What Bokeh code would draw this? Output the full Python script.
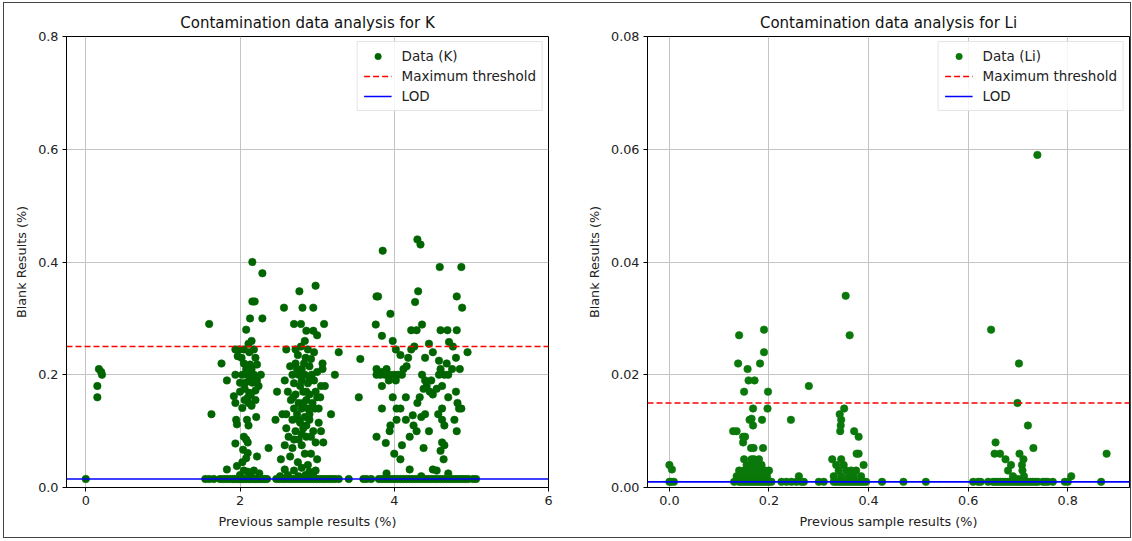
from bokeh.plotting import figure
from bokeh.layouts import row
from bokeh.models import FixedTicker, NumeralTickFormatter, Legend, LegendItem, Range1d
from bokeh.embed import file_html
from bokeh.resources import INLINE

# ---------------- K data ----------------
k_prev = [
    # near zero
    0.0, 0.17, 0.2, 0.21, 0.15, 0.15,
    # cluster around 2
    1.60, 1.63, 1.76, 1.83, 2.16, 2.29, 2.16, 2.19, 2.13, 2.29, 2.08, 2.15, 2.11, 1.94,
    1.99, 1.97, 2.05, 2.12, 2.18, 2.05, 2.13, 2.22, 1.94, 2.03, 2.10, 2.18, 2.27, 2.00,
    2.07, 2.16, 2.22, 2.06, 2.12, 2.20, 1.92, 2.10, 2.20, 1.94, 2.11, 2.15, 2.03, 1.95,
    2.09, 2.21, 1.96, 2.11, 2.05, 2.08, 2.10, 1.94, 2.04, 2.10, 2.08, 2.03, 2.22, 2.37,
    1.83, 1.96, 2.05, 2.10, 2.18, 2.25, 2.00, 2.14, 2.02, 2.08, 2.15, 2.20, 2.17, 2.24,
    2.00, 2.12, 2.06, 2.14,
    # cluster around 2.8
    2.98, 2.77, 2.57, 2.81, 2.95, 2.70, 2.79, 3.09, 2.86, 2.95, 3.00, 2.84, 2.60, 2.72,
    2.79, 2.88, 2.96, 3.28, 2.75, 2.85, 2.92, 3.07, 3.07, 3.23, 2.65, 2.72, 2.80, 2.90,
    2.68, 2.76, 2.84, 2.93, 3.00, 2.58, 2.70, 2.80, 2.88, 2.96, 3.05, 3.10, 2.48, 2.62,
    2.72, 2.82, 2.90, 3.00, 2.66, 2.76, 2.86, 2.94, 3.04, 2.70, 2.80, 2.88, 2.97, 2.60,
    2.74, 2.84, 3.18, 2.46, 2.55, 2.68, 2.78, 2.90, 3.02, 2.60, 2.72, 2.82, 2.95, 3.05,
    2.63, 2.76, 2.86, 2.98, 3.08, 2.58, 2.68, 2.80, 2.92, 2.53, 2.65, 2.75, 2.88, 3.00,
    2.58, 2.70, 2.80, 2.90, 2.98, 2.62, 2.76, 2.85, 2.95, 2.52,
    2.74, 2.83, 2.90, 2.78, 2.86, 2.82, 2.90, 2.76, 2.86, 2.80, 2.92, 2.84, 2.70, 3.02,
    2.98, 2.69,
    # cluster around 4.3
    3.85, 4.30, 4.34, 4.59, 4.87, 3.77, 3.79, 3.76, 3.84, 3.95, 4.31, 4.27, 4.36, 4.22,
    4.29, 4.81, 4.88, 4.60, 4.69, 4.81, 4.71, 4.95, 3.56, 3.54, 3.98, 4.02, 4.08, 4.12,
    4.16, 4.18, 4.22, 4.26, 4.10, 3.77, 3.84, 3.90, 3.77, 3.82, 3.88, 3.94, 4.00, 4.05,
    3.84, 3.93, 4.02, 3.98, 4.15, 3.84, 4.03, 4.08, 3.77, 3.89, 3.94, 4.03, 4.15, 4.08,
    4.20, 4.38, 4.24, 4.29, 4.33, 4.38, 4.42, 4.46, 4.50, 4.55, 4.40, 4.48, 4.36, 4.50,
    4.58, 4.60, 4.65, 4.70, 4.75, 4.68, 4.58, 4.62, 4.70, 4.62, 4.57, 4.62, 4.65, 4.62,
    4.65, 4.60, 4.64, 4.50, 4.80, 4.82, 4.84, 4.87, 4.81, 4.78, 4.80, 4.85, 4.76, 4.45,
    4.40, 4.30, 4.25, 4.40, 4.35, 4.20, 4.45, 3.95, 4.00, 4.10, 3.90, 4.35, 4.70, 4.55,
    # at the limit of detection
    1.55, 1.60, 1.66, 1.74, 1.78, 1.82, 1.86, 1.90, 1.93, 1.96, 1.99, 2.02, 2.05, 2.08,
    2.11, 2.14, 2.17, 2.20, 2.23, 2.26, 2.29, 2.32, 2.35, 2.47, 2.51, 2.55, 2.59, 2.63,
    2.67, 2.71, 2.75, 2.79, 2.83, 2.87, 2.91, 2.95, 2.99, 3.03, 3.07, 3.11, 3.15, 3.19,
    3.23, 3.28, 3.41, 3.60, 3.64, 3.70, 3.80, 3.84, 3.88, 3.92, 3.96, 4.00, 4.04, 4.08,
    4.12, 4.16, 4.20, 4.24, 4.28, 4.32, 4.36, 4.40, 4.44, 4.48, 4.52, 4.56, 4.60, 4.64,
    4.68, 4.72, 4.76, 4.80, 4.84, 4.88, 4.92, 4.96, 5.02, 5.06,
]
k_blank = [
    0.015, 0.21, 0.205, 0.20, 0.18, 0.16,
    0.29, 0.13, 0.22, 0.19, 0.40, 0.38, 0.33, 0.33, 0.30, 0.30, 0.28, 0.26, 0.255, 0.245,
    0.245, 0.233, 0.245, 0.24, 0.245, 0.22, 0.218, 0.218, 0.20, 0.20, 0.20, 0.20, 0.20, 0.186,
    0.186, 0.186, 0.19, 0.175, 0.168, 0.172, 0.162, 0.159, 0.155, 0.15, 0.15, 0.145, 0.141, 0.12,
    0.12, 0.125, 0.112, 0.11, 0.09, 0.085, 0.08, 0.078, 0.067, 0.061, 0.052, 0.045, 0.055, 0.07,
    0.032, 0.038, 0.03, 0.028, 0.03, 0.025, 0.022, 0.02, 0.23, 0.21, 0.21, 0.23, 0.19, 0.18,
    0.17, 0.19, 0.155, 0.165,
    0.358, 0.348, 0.319, 0.319, 0.319, 0.29, 0.29, 0.29, 0.278, 0.278, 0.27, 0.26, 0.245, 0.245,
    0.25, 0.245, 0.24, 0.24, 0.235, 0.23, 0.228, 0.22, 0.21, 0.20, 0.215, 0.22, 0.21, 0.215,
    0.20, 0.20, 0.20, 0.20, 0.205, 0.19, 0.185, 0.19, 0.185, 0.19, 0.18, 0.18, 0.17, 0.17,
    0.165, 0.17, 0.165, 0.16, 0.155, 0.15, 0.155, 0.15, 0.16, 0.14, 0.14, 0.14, 0.14, 0.13,
    0.13, 0.125, 0.13, 0.12, 0.13, 0.12, 0.115, 0.12, 0.115, 0.105, 0.10, 0.105, 0.10, 0.10,
    0.09, 0.085, 0.09, 0.08, 0.08, 0.075, 0.07, 0.075, 0.06, 0.05, 0.055, 0.045, 0.04, 0.05,
    0.032, 0.03, 0.035, 0.028, 0.03, 0.022, 0.02, 0.022, 0.02, 0.02,
    0.21, 0.22, 0.19, 0.18, 0.17, 0.15, 0.13, 0.12, 0.11, 0.095, 0.09, 0.06, 0.085, 0.14,
    0.17, 0.16,
    0.42, 0.44, 0.431, 0.391, 0.391, 0.339, 0.339, 0.289, 0.269, 0.308, 0.348, 0.329, 0.289, 0.279,
    0.279, 0.339, 0.319, 0.279, 0.279, 0.279, 0.258, 0.24, 0.228, 0.16, 0.26, 0.245, 0.235, 0.21,
    0.215, 0.23, 0.245, 0.25, 0.20, 0.21, 0.205, 0.21, 0.20, 0.20, 0.20, 0.20, 0.20, 0.20,
    0.18, 0.19, 0.19, 0.16, 0.16, 0.14, 0.14, 0.14, 0.09, 0.079, 0.10, 0.12, 0.12, 0.05,
    0.032, 0.07, 0.128, 0.10, 0.16, 0.175, 0.18, 0.17, 0.165, 0.175, 0.19, 0.19, 0.20, 0.24,
    0.225, 0.21, 0.20, 0.20, 0.21, 0.22, 0.20, 0.18, 0.16, 0.14, 0.13, 0.12, 0.11, 0.08,
    0.075, 0.065, 0.05, 0.032, 0.17, 0.15, 0.14, 0.14, 0.10, 0.12, 0.23, 0.21, 0.25, 0.255,
    0.23, 0.15, 0.11, 0.13, 0.125, 0.09, 0.10, 0.11, 0.06, 0.075, 0.025, 0.02, 0.025, 0.03,
    0.015, 0.015, 0.015, 0.015, 0.015, 0.015, 0.015, 0.015, 0.015, 0.015, 0.015, 0.015, 0.015, 0.015,
    0.015, 0.015, 0.015, 0.015, 0.015, 0.015, 0.015, 0.015, 0.015, 0.015, 0.015, 0.015, 0.015, 0.015,
    0.015, 0.015, 0.015, 0.015, 0.015, 0.015, 0.015, 0.015, 0.015, 0.015, 0.015, 0.015, 0.015, 0.015,
    0.015, 0.015, 0.015, 0.015, 0.015, 0.015, 0.015, 0.015, 0.015, 0.015, 0.015, 0.015, 0.015, 0.015,
    0.015, 0.015, 0.015, 0.015, 0.015, 0.015, 0.015, 0.015, 0.015, 0.015, 0.015, 0.015, 0.015, 0.015,
    0.015, 0.015, 0.015, 0.015, 0.015, 0.015, 0.015, 0.015, 0.015, 0.015,
]
k_max_threshold = 0.25
k_lod = 0.015

# ---------------- Li data ----------------
li_prev = [
    0.0, 0.005, 0.0, 0.009, 0.003,
    0.14, 0.19, 0.19, 0.138, 0.182, 0.157, 0.159, 0.171, 0.15, 0.198, 0.168, 0.197, 0.161,
    0.165, 0.186, 0.168, 0.244, 0.28, 0.128, 0.135, 0.148, 0.152, 0.148, 0.164, 0.169, 0.188,
    0.15, 0.17, 0.168,
    0.135, 0.14, 0.145, 0.15, 0.155, 0.158, 0.16, 0.165, 0.168, 0.172, 0.175, 0.178, 0.182,
    0.185, 0.188, 0.192, 0.196, 0.2, 0.165, 0.18, 0.145, 0.17, 0.19, 0.26,
    0.354, 0.362, 0.351, 0.342, 0.345, 0.344, 0.343, 0.371, 0.38, 0.376, 0.38, 0.39, 0.327,
    0.335, 0.34, 0.345, 0.35, 0.355, 0.36, 0.365, 0.37, 0.375, 0.385, 0.345, 0.33,
    0.739, 0.646, 0.702, 0.699, 0.72, 0.731, 0.655, 0.653, 0.664, 0.675, 0.686, 0.68, 0.703,
    0.711, 0.708, 0.709, 0.69, 0.712, 0.70, 0.807, 0.878,
    0.13, 0.14, 0.145, 0.15, 0.155, 0.16, 0.165, 0.17, 0.175, 0.18, 0.185, 0.19, 0.195, 0.2,
    0.205, 0.225, 0.235, 0.245, 0.255, 0.265, 0.27, 0.3, 0.31, 0.33, 0.335, 0.34, 0.345, 0.35,
    0.355, 0.36, 0.365, 0.37, 0.375, 0.38, 0.385, 0.39, 0.395, 0.427, 0.47, 0.515, 0.61, 0.62,
    0.625, 0.64, 0.65, 0.655, 0.66, 0.665, 0.67, 0.675, 0.68, 0.685, 0.69, 0.695, 0.7, 0.705,
    0.71, 0.715, 0.72, 0.725, 0.73, 0.735, 0.74, 0.75, 0.755, 0.76, 0.77, 0.794, 0.8, 0.867,
]
li_blank = [
    0.004, 0.0032, 0.001, 0.001, 0.001,
    0.027, 0.028, 0.024, 0.022, 0.022, 0.021, 0.019, 0.019, 0.017, 0.017, 0.014, 0.014, 0.012,
    0.0122, 0.012, 0.011, 0.012, 0.018, 0.01, 0.01, 0.009, 0.009, 0.008, 0.007, 0.007, 0.007,
    0.005, 0.005, 0.0045,
    0.002, 0.003, 0.002, 0.003, 0.004, 0.002, 0.003, 0.004, 0.002, 0.003, 0.004, 0.002, 0.003,
    0.004, 0.002, 0.003, 0.002, 0.003, 0.005, 0.005, 0.0015, 0.0015, 0.0015, 0.002,
    0.034, 0.027, 0.014, 0.013, 0.012, 0.011, 0.01, 0.01, 0.009, 0.006, 0.006, 0.004, 0.005,
    0.004, 0.003, 0.005, 0.004, 0.003, 0.002, 0.003, 0.002, 0.003, 0.002, 0.002, 0.002,
    0.059, 0.028, 0.022, 0.015, 0.011, 0.007, 0.008, 0.006, 0.006, 0.005, 0.004, 0.003, 0.006,
    0.005, 0.004, 0.003, 0.002, 0.002, 0.0015, 0.002, 0.006,
    0.001, 0.001, 0.001, 0.001, 0.001, 0.001, 0.001, 0.001, 0.001, 0.001, 0.001, 0.001, 0.001, 0.001,
    0.001, 0.001, 0.001, 0.001, 0.001, 0.001, 0.001, 0.001, 0.001, 0.001, 0.001, 0.001, 0.001, 0.001,
    0.001, 0.001, 0.001, 0.001, 0.001, 0.001, 0.001, 0.001, 0.001, 0.001, 0.001, 0.001, 0.001, 0.001,
    0.001, 0.001, 0.001, 0.001, 0.001, 0.001, 0.001, 0.001, 0.001, 0.001, 0.001, 0.001, 0.001, 0.001,
    0.001, 0.001, 0.001, 0.001, 0.001, 0.001, 0.001, 0.001, 0.001, 0.001, 0.001, 0.001, 0.001, 0.001,
]
li_max_threshold = 0.015
li_lod = 0.001

k_xticks = [0, 2, 4, 6]
k_yticks = [0.0, 0.2, 0.4, 0.6, 0.8]
li_xticks = [0.0, 0.2, 0.4, 0.6, 0.8]
li_yticks = [0.0, 0.02, 0.04, 0.06, 0.08]

FONT = "DejaVu Sans"


def make_panel(title, label, xs, ys, thr, lod, xlim, ylim, xticks, yticks,
               xfmt, yfmt, color, border_left, border_right):
    p = figure(
        title=title,
        x_range=Range1d(*xlim), y_range=Range1d(*ylim),
        frame_width=482, frame_height=451,
        min_border_left=border_left, min_border_right=border_right,
        min_border_top=33, min_border_bottom=50,
        output_backend="svg", toolbar_location=None,
    )
    p.background_fill_color = "white"
    p.border_fill_color = "white"
    p.outline_line_color = "black"
    p.outline_line_alpha = 1.0
    p.outline_line_width = 1

    p.title.align = "center"
    p.title.text_font = FONT
    p.title.text_font_size = "15px"
    p.title.text_font_style = "normal"
    p.title.text_color = "#111111"

    p.xaxis.ticker = FixedTicker(ticks=xticks)
    p.yaxis.ticker = FixedTicker(ticks=yticks)
    p.xgrid.ticker = FixedTicker(ticks=xticks)
    p.ygrid.ticker = FixedTicker(ticks=yticks)
    p.xaxis.formatter = NumeralTickFormatter(format=xfmt)
    p.yaxis.formatter = NumeralTickFormatter(format=yfmt)
    p.xaxis.axis_label = "Previous sample results (%)"
    p.yaxis.axis_label = "Blank Results (%)"
    for ax in (p.xaxis[0], p.yaxis[0]):
        ax.axis_label_text_font = FONT
        ax.axis_label_text_font_size = "12.8px"
        ax.axis_label_text_font_style = "normal"
        ax.axis_label_text_color = "#222222"
        ax.axis_label_standoff = 6
        ax.major_label_text_font = FONT
        ax.major_label_text_font_size = "12.8px"
        ax.major_label_text_color = "#222222"
        ax.major_label_standoff = 4
        ax.major_tick_out = 4
        ax.major_tick_in = 0
        ax.minor_tick_out = 0
        ax.minor_tick_in = 0
        ax.axis_line_color = "black"
        ax.major_tick_line_color = "black"

    for g in (p.xgrid[0], p.ygrid[0]):
        g.grid_line_color = "#c4c4c4"
        g.grid_line_width = 1

    sc = p.scatter(xs, ys, size=7.5, fill_color=color, line_color=color, line_width=0.6)
    thr_line = p.line([xlim[0], xlim[1]], [thr, thr], line_color="red",
                      line_dash="6 3", line_width=1.6)
    lod_line = p.line([xlim[0], xlim[1]], [lod, lod], line_color="blue", line_width=1.6)

    legend = Legend(items=[
        LegendItem(label=label, renderers=[sc]),
        LegendItem(label="Maximum threshold", renderers=[thr_line]),
        LegendItem(label="LOD", renderers=[lod_line]),
    ], location="top_right")
    legend.label_text_font = FONT
    legend.label_text_font_size = "13.5px"
    legend.label_text_color = "#222222"
    legend.label_height = 16
    legend.glyph_height = 16
    legend.glyph_width = 28
    legend.label_standoff = 10
    legend.spacing = 4
    legend.padding = 6
    legend.margin = 5
    legend.border_line_color = "#cccccc"
    legend.border_line_width = 1
    legend.background_fill_alpha = 0.85
    p.add_layout(legend)
    return p


p1 = make_panel("Contamination data analysis for K", "Data (K)", k_prev, k_blank,
                k_max_threshold, k_lod, (-0.25, 6.0), (0.0, 0.8), k_xticks, k_yticks,
                "0", "0.0", "#006400", 62, 36)
p2 = make_panel("Contamination data analysis for Li", "Data (Li)", li_prev, li_blank,
                li_max_threshold, li_lod, (-0.044, 0.924), (0.0, 0.08), li_xticks, li_yticks,
                "0.0", "0.00", "#0a780a", 56, 1)

layout = row(p1, p2, styles={"border": "1px solid #444444",
                             "margin-left": "3px", "margin-top": "2px"})

open("out.html", "w").write(file_html(layout, INLINE))
